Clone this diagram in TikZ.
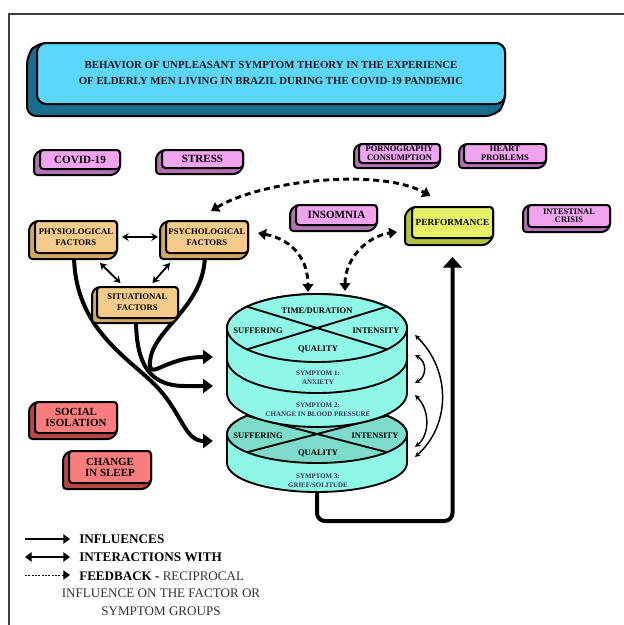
\documentclass[tikz,border=0pt]{standalone}
\usepackage{fontspec}
\setmainfont{Liberation Serif}
\usetikzlibrary{arrows.meta,calc}
\definecolor{titleF}{HTML}{5CD6FA}
\definecolor{titleB}{HTML}{186D8D}
\definecolor{pinkF}{HTML}{F0A4F0}
\definecolor{pinkB}{HTML}{B271B2}
\definecolor{tanF}{HTML}{F5CB8C}
\definecolor{tanB}{HTML}{D2A764}
\definecolor{redF}{HTML}{FA7D7D}
\definecolor{redB}{HTML}{B84646}
\definecolor{perfF}{HTML}{E8F266}
\definecolor{perfB}{HTML}{B7BF3E}
\definecolor{cylC}{HTML}{8FF7E6}
\definecolor{cylD}{HTML}{7DDCC9}
\definecolor{symT}{HTML}{33335C}
\tikzset{
  boxline/.style={draw=black,line width=1.5pt,rounded corners=2.5pt,line join=round},
  boxfront/.style={draw=black,line width=1.5pt,rounded corners=2.5pt,inner sep=0pt,outer sep=0pt,align=center,text=black},
  cylline/.style={draw=black,line width=1.4pt,line join=round},
  cyllbl/.style={font=\fontsize{6.4}{7}\selectfont\bfseries,text=black,inner sep=0pt},
  symlbl/.style={font=\fontsize{5.2}{6.6}\selectfont\bfseries,text=symT,align=center,inner sep=0pt},
  thickc/.style={line width=3pt,line cap=round,-{Triangle[length=7.5pt,width=10.5pt]}},
  dbl/.style={line width=1.4pt,{Stealth[length=5pt,width=6pt]}-{Stealth[length=5pt,width=6pt]}},
  sidearr/.style={line width=1.1pt,{Stealth[length=4pt,width=4pt]}-{Stealth[length=4pt,width=4pt]}},
  fb/.style={line width=2.2pt,dash pattern=on 4.5pt off 3pt,{Triangle[length=6pt,width=8pt]}-{Triangle[length=6pt,width=8pt]}},
  legB/.style={font=\fontsize{9.9}{12}\selectfont\bfseries,text=black,inner sep=0pt},
  legR/.style={font=\fontsize{9.8}{12}\selectfont,text=black!80,inner sep=0pt},
}
\newcommand\tdbox[9]{%
  \filldraw[boxline,fill=#7B] (#2,#3) -- (#4,#3) -- (#4,#5) -- ({#4-#6},{#5+#6}) -- ({#2-#6},{#5+#6}) -- ({#2-#6},{#3+#6}) -- cycle;
  \node[boxfront,fill=#7F,font={#8},minimum width={(#4-#2)*0.75pt},minimum height={(#5-#3)*0.75pt}] (#1) at ({(#2+#4)/2},{(#3+#5)/2}) {#9};}
\newcommand\lowarc[4]{.. controls ({#1-#3},{#2+0.5523*#4}) and ({#1-0.5523*#3},{#2+#4}) .. (#1,{#2+#4}) .. controls ({#1+0.5523*#3},{#2+#4}) and ({#1+#3},{#2+0.5523*#4}) .. ({#1+#3},#2)}
\newcommand\uparc[4]{.. controls ({#1+#3},{#2-0.5523*#4}) and ({#1+0.5523*#3},{#2-#4}) .. (#1,{#2-#4}) .. controls ({#1-0.5523*#3},{#2-#4}) and ({#1-#3},{#2-0.5523*#4}) .. ({#1-#3},#2)}
\newcommand\fBig{\fontsize{8.3}{8.4}\selectfont\bfseries}
\newcommand\fMid{\fontsize{6.5}{8.3}\selectfont\bfseries}
\newcommand\fSm{\fontsize{6.4}{6.5}\selectfont\bfseries}
\begin{document}
\begin{tikzpicture}[x=0.75pt,y=-0.75pt]
\useasboundingbox (0,0) rectangle (624,625);
\fill[white] (0,0) rectangle (624,625);
\draw[black!75,line width=0.9pt] (9,625) -- (9,14) -- (624,14);

% title
\filldraw[boxline,rounded corners=7pt,fill=titleB] (37,43) -- (505,43) -- (505,104) -- (495,116) -- (27,116) -- (27,55) -- cycle;
\node[boxfront,rounded corners=7pt,fill=titleF,minimum width=351pt,minimum height=45.75pt,font=\fontsize{8.1}{12}\selectfont\bfseries,text=black!90] (title) at (271,73.5)
  {BEHAVIOR OF UNPLEASANT SYMPTOM THEORY IN THE EXPERIENCE\\OF ELDERLY MEN LIVING IN BRAZIL DURING THE COVID-19 PANDEMIC};

% thick influence curves (behind boxes)
\coordinate (in1) at (213,357);
\coordinate (in2) at (213,386);
\coordinate (in3) at (213,441);
\coordinate (physS) at (74,254);
\coordinate (psychS) at (205,254);
\coordinate (sitS) at (136,319);
\draw[thickc] (physS) .. controls (74,330) and (130,358) .. (158,388) .. controls (182,414) and (185,441) .. (in3);
\draw[thickc] (psychS) .. controls (205,310) and (148,330) .. (150,366) .. controls (151,378) and (168,357) .. (in1);
\draw[thickc] (sitS) .. controls (136,365) and (150,386) .. (185,386) -- (in2);

% pink boxes
\tdbox{covid}{40}{150}{120}{169}{6}{pink}{\fBig}{COVID-19}
\tdbox{stress}{162}{150}{243}{168}{6}{pink}{\fBig}{STRESS}
\tdbox{porn}{359}{144}{440}{163}{5}{pink}{\fSm}{PORNOGRAPHY\\CONSUMPTION}
\tdbox{heart}{464}{144}{546}{163}{5}{pink}{\fSm}{HEART\\PROBLEMS}
\tdbox{insom}{296}{205}{377}{225}{6}{pink}{\fBig}{INSOMNIA}
\tdbox{intest}{528}{205}{610}{227}{5}{pink}{\fontsize{6.3}{6.3}\selectfont\bfseries}{INTESTINAL\\CRISIS}
\tdbox{perf}{412}{207}{493}{238}{7}{perf}{\fontsize{7}{8}\selectfont\bfseries}{PERFORMANCE}
% tan boxes
\tdbox{phys}{35}{221}{117}{253}{6}{tan}{\fMid}{PHYSIOLOGICAL\\FACTORS}
\tdbox{psych}{166}{221}{248}{253}{6}{tan}{\fMid}{PSYCHOLOGICAL\\FACTORS}
\tdbox{sit}{97}{287}{178}{318}{5}{tan}{\fMid}{SITUATIONAL\\FACTORS}
% red boxes
\tdbox{social}{35}{402}{117}{433}{6}{red}{\fontsize{8.2}{8.3}\selectfont\bfseries}{SOCIAL\\ISOLATION}
\tdbox{sleep}{69}{451}{151}{483}{6}{red}{\fontsize{8.2}{8.3}\selectfont\bfseries}{CHANGE\\IN SLEEP}

% interaction arrows among factors
\draw[dbl] ($(phys.east)+(5,0)$) -- ($(psych.west)+(-8,0)$);
\draw[dbl] ($(phys.south)+(24,10)$) -- ($(sit.north)+(-17,-4)$);
\draw[dbl] ($(psych.south)+(-37,10)$) -- ($(sit.north)+(15,-4)$);

% lower cylinder
\filldraw[cylline,fill=cylC] (227,434) -- (227,463) \lowarc{317}{463}{90}{29} -- (407,434) \uparc{317}{434}{90}{29} -- cycle;
\filldraw[cylline,fill=cylD] (227,434) \lowarc{317}{434}{90}{29} \uparc{317}{434}{90}{29} -- cycle;
\draw[cylline] (247,415.8) -- (387,452.2);
\draw[cylline] (247,452.2) -- (387,415.8);
% upper cylinder
\filldraw[cylline,fill=cylC] (227,328) -- (227,393) \lowarc{317}{393}{90}{34} -- (407,328) \uparc{317}{328}{90}{34} -- cycle;
\draw[cylline] (227,359) \lowarc{317}{359}{90}{34};
\filldraw[cylline,fill=cylC] (227,328) \lowarc{317}{328}{90}{34} \uparc{317}{328}{90}{34} -- cycle;
\draw[cylline] (247,306.6) -- (387,349.4);
\draw[cylline] (247,349.4) -- (387,306.6);

\node[cyllbl] (tdur) at (317,311) {TIME/DURATION};
\node[cyllbl] (suf1) at (258,331) {SUFFERING};
\node[cyllbl] (int1) at (376,331) {INTENSITY};
\node[cyllbl] (qual1) at (318,349) {QUALITY};
\node[symlbl] (sym1) at (318,378) {SYMPTOM 1:\\ANXIETY};
\node[symlbl] (sym2) at (318,409.5) {SYMPTOM 2:\\CHANGE IN BLOOD PRESSURE};
\node[cyllbl] (suf3) at (258,436) {SUFFERING};
\node[cyllbl] (int3) at (375,436) {INTENSITY};
\node[cyllbl] (qual3) at (318,453) {QUALITY};
\node[symlbl] (sym3) at (318,481) {SYMPTOM 3:\\GRIEF/SOLITUDE};

\coordinate (cyltop1) at (308,292);
\coordinate (cyltop2) at (345,291);
\coordinate (cylbot) at (317,492);

% side interaction arrows
\coordinate (sa1) at (415,335); \coordinate (sb1) at (415,457);
\coordinate (sa2) at (415,355); \coordinate (sb2) at (415,383);
\coordinate (sa3) at (415,395); \coordinate (sb3) at (415,447);
\draw[sidearr] (sa1) .. controls (451,370) and (451,425) .. (sb1);
\draw[sidearr] (sa2) .. controls (427,362) and (427,376) .. (sb2);
\draw[sidearr] (sa3) .. controls (430,410) and (430,435) .. (sb3);

% output to performance
\draw[line width=3pt,rounded corners=6pt,-{Triangle[length=8pt,width=14pt]}] (cylbot) -- (317,521) -| ($(perf.south)+(0,19)$);

% feedback
\draw[fb] ($(psych.north)+(4,-10)$) .. controls (262,180) and (380,168) .. ($(perf.north)+(-22,-11)$);
\draw[fb] ($(psych.east)+(10,-4)$) .. controls (295,240) and (308,262) .. (cyltop1);
\draw[fb] (cyltop2) .. controls (345,258) and (368,236) .. ($(perf.west)+(-15,9.5)$);

% legend
\coordinate (l1a) at (25,539); \coordinate (l1b) at (70,539);
\coordinate (l2a) at (25,557); \coordinate (l2b) at (70,557);
\coordinate (l3a) at (25,575); \coordinate (l3b) at (70,575);
\draw[line width=1.8pt,-{Triangle[length=5pt,width=7pt]}] (l1a) -- (l1b);
\draw[line width=1.8pt,{Triangle[length=5pt,width=7pt]}-{Triangle[length=5pt,width=7pt]}] (l2a) -- (l2b);
\draw[line width=0.7pt,dash pattern=on 1.5pt off 1pt,-{Triangle[length=5pt,width=7pt]}] (l3a) -- (l3b);
\node[legB,anchor=west] (t1) at (79,539) {INFLUENCES};
\node[legB,anchor=west] (t2) at (79,557.5) {INTERACTIONS WITH};
\node[legR,anchor=west] (t3) at (79,576) {{\bfseries\color{black}FEEDBACK -}\ RECIPROCAL};
\node[legR] (t4) at (161,593) {INFLUENCE ON THE FACTOR OR};
\node[legR] (t5) at (161,611) {SYMPTOM GROUPS};
\end{tikzpicture}
\end{document}
